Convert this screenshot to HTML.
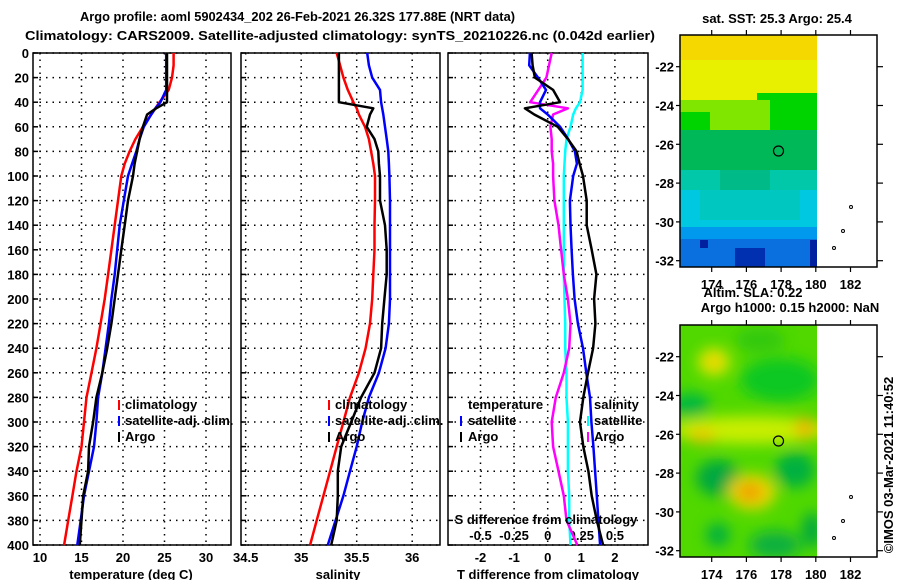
<!DOCTYPE html>
<html><head><meta charset="utf-8"><style>
body{margin:0;background:#fff}
svg{display:block}
text{font-family:"Liberation Sans",sans-serif;font-weight:bold;font-size:13px;fill:#000}
</style></head><body>
<svg id="fig" width="900" height="580" viewBox="0 0 900 580" xmlns="http://www.w3.org/2000/svg">
<defs>
<filter id="blur" x="-20%" y="-20%" width="140%" height="140%"><feGaussianBlur stdDeviation="7"/></filter>
<clipPath id="c1"><rect x="680" y="35" width="137" height="232"/></clipPath>
<clipPath id="c2"><rect x="680" y="325" width="137" height="232"/></clipPath>
</defs>
<text x="80" y="21" textLength="435" lengthAdjust="spacingAndGlyphs" font-size="14">Argo profile: aoml 5902434_202 26-Feb-2021 26.32S 177.88E (NRT data)</text>
<text x="25" y="40" textLength="630" lengthAdjust="spacingAndGlyphs" font-size="14">Climatology: CARS2009. Satellite-adjusted climatology: synTS_20210226.nc (0.042d earlier)</text>

<g id="grids"></g>
<g id="series"></g>

<!-- top map -->
<g clip-path="url(#c1)">
<rect x="680" y="35" width="137" height="232" fill="#0080ee"/>
<rect x="680" y="35" width="137" height="70" fill="#e8f000"/>
<rect x="680" y="35" width="137" height="25" fill="#f4d800"/>
<rect x="757" y="93" width="60" height="40" fill="#00d400"/>
<rect x="680" y="100" width="90" height="30" fill="#80e600"/>
<rect x="680" y="112" width="30" height="20" fill="#00d400"/>
<rect x="680" y="130" width="137" height="42" fill="#00b858"/>
<rect x="680" y="170" width="137" height="20" fill="#00c8a8"/>
<rect x="720" y="170" width="50" height="40" fill="#00bb88"/>
<rect x="680" y="190" width="137" height="37" fill="#00c8e0"/>
<rect x="700" y="190" width="100" height="30" fill="#00c8c0"/>
<rect x="680" y="227" width="137" height="40" fill="#0a70e0"/>
<rect x="680" y="227" width="137" height="12" fill="#0099ee"/>
<rect x="735" y="248" width="30" height="19" fill="#0030b0"/>
<rect x="700" y="240" width="8" height="8" fill="#0020a0"/>
<rect x="810" y="240" width="7" height="27" fill="#0020a0"/>
</g>
<rect x="680" y="35" width="197" height="232" fill="none" stroke="#000" stroke-width="1.5"/>
<circle cx="778.5" cy="151" r="5" fill="none" stroke="#000" stroke-width="1.2"/>
<text x="777" y="23" text-anchor="middle" font-size="12">sat. SST: 25.3 Argo: 25.4</text>

<!-- bottom map -->
<g clip-path="url(#c2)">
<rect x="680" y="325" width="137" height="232" fill="#50d800"/>
<g filter="url(#blur)">
<ellipse cx="714" cy="362" rx="16" ry="14" fill="#e0e800"/>
<ellipse cx="714" cy="362" rx="7" ry="5" fill="#f0c000"/>
<ellipse cx="690" cy="405" rx="20" ry="12" fill="#00b840"/>
<ellipse cx="780" cy="380" rx="40" ry="22" fill="#10c820"/>
<ellipse cx="750" cy="430" rx="80" ry="14" fill="#c8ee00"/>
<ellipse cx="702" cy="436" rx="14" ry="7" fill="#f0c400"/>
<ellipse cx="805" cy="428" rx="10" ry="11" fill="#f0b800"/>
<ellipse cx="718" cy="478" rx="22" ry="18" fill="#00a840"/>
<ellipse cx="795" cy="470" rx="20" ry="18" fill="#00b040"/>
<ellipse cx="752" cy="492" rx="24" ry="18" fill="#e8d800"/>
<ellipse cx="750" cy="492" rx="13" ry="9" fill="#f09c00"/>
<ellipse cx="718" cy="535" rx="12" ry="12" fill="#00b040"/>
<ellipse cx="775" cy="545" rx="26" ry="14" fill="#10b040"/>
<ellipse cx="812" cy="530" rx="10" ry="18" fill="#00a840"/>
<ellipse cx="760" cy="340" rx="25" ry="12" fill="#30c810"/>
</g>
</g>
<rect x="680" y="325" width="197" height="232" fill="none" stroke="#000" stroke-width="1.5"/>
<circle cx="778.5" cy="441" r="5" fill="none" stroke="#000" stroke-width="1.2"/>
<text x="753" y="297" text-anchor="middle" font-size="12">Altim. SLA: 0.22</text>
<text x="790" y="312" text-anchor="middle" font-size="12">Argo h1000: 0.15 h2000: NaN</text>
<text transform="translate(893,465) rotate(-90)" text-anchor="middle" font-size="12" font-weight="normal">©IMOS 03-Mar-2021 11:40:52</text>
<g id="maps"></g>

<!-- legends -->
<g>
<line x1="119" y1="400" x2="119" y2="410" stroke="red" stroke-width="2"/><text x="125" y="409">climatology</text>
<line x1="119" y1="416" x2="119" y2="426" stroke="blue" stroke-width="2"/><text x="125" y="425">satellite-adj. clim.</text>
<line x1="119" y1="432" x2="119" y2="442" stroke="black" stroke-width="2"/><text x="125" y="441">Argo</text>
</g>
<g>
<line x1="329" y1="400" x2="329" y2="410" stroke="red" stroke-width="2"/><text x="335" y="409">climatology</text>
<line x1="329" y1="416" x2="329" y2="426" stroke="blue" stroke-width="2"/><text x="335" y="425">satellite-adj. clim.</text>
<line x1="329" y1="432" x2="329" y2="442" stroke="black" stroke-width="2"/><text x="335" y="441">Argo</text>
</g>
<g>
<text x="468" y="409">temperature</text>
<line x1="461" y1="416" x2="461" y2="426" stroke="blue" stroke-width="2"/><text x="468" y="425">satellite</text>
<line x1="461" y1="432" x2="461" y2="442" stroke="black" stroke-width="2"/><text x="468" y="441">Argo</text>
<text x="594" y="409">salinity</text>
<line x1="588" y1="416" x2="588" y2="426" stroke="cyan" stroke-width="2"/><text x="594" y="425">satellite</text>
<line x1="588" y1="432" x2="588" y2="442" stroke="magenta" stroke-width="2"/><text x="594" y="441">Argo</text>
</g>
<text x="546" y="524" text-anchor="middle">S difference from climatology</text>
<text x="131" y="579" text-anchor="middle">temperature (deg C)</text>
<text x="338" y="579" text-anchor="middle">salinity</text>
<text x="548" y="579" text-anchor="middle">T difference from climatology</text>

<script>
const depths = [0,10,20,30,40,45,50,60,70,80,90,100,120,140,160,180,200,220,240,260,280,300,320,340,360,380,400];
const tempClim = [26.1,26.1,25.9,25.5,24.4,23.9,23.4,22.4,21.5,20.8,20.2,19.8,19.4,19.0,18.6,18.2,17.8,17.3,16.8,16.2,15.6,15.3,15.0,14.4,13.9,13.4,12.9];
const tempSat = [25.2,25.2,25.2,25.2,24.5,23.9,23.4,22.5,22.0,21.6,21.1,20.6,20.1,19.6,19.3,19.0,18.6,18.3,17.9,17.5,17.0,16.8,16.5,15.9,15.3,14.9,14.5];
const tempArgo = [25.3,25.3,25.3,25.3,25.3,24.0,22.9,22.4,22.0,21.7,21.4,21.2,20.6,20.2,19.8,19.4,19.0,18.6,18.1,17.5,16.8,16.4,15.9,15.8,15.2,15.0,14.8];
const salClim = [35.32,35.35,35.38,35.42,35.47,35.5,35.52,35.575,35.61,35.63,35.65,35.665,35.665,35.66,35.66,35.65,35.64,35.62,35.58,35.52,35.44,35.38,35.32,35.26,35.2,35.14,35.08];
const salSat = [35.595,35.61,35.64,35.71,35.72,35.73,35.74,35.755,35.77,35.785,35.79,35.795,35.8,35.8,35.8,35.8,35.8,35.79,35.76,35.7,35.61,35.55,35.5,35.44,35.38,35.31,35.24];
const salArgo = [35.34,35.34,35.34,35.34,35.34,35.65,35.62,35.59,35.66,35.695,35.70,35.71,35.71,35.755,35.77,35.77,35.75,35.73,35.72,35.66,35.54,35.45,35.36,35.33,35.33,35.32,35.27];
const dTSat = [-0.53,-0.55,-0.29,-0.05,-0.23,-0.23,0.0,0.37,0.61,0.81,0.87,0.76,0.66,0.68,0.71,0.75,0.8,0.9,1.05,1.15,1.26,1.3,1.36,1.41,1.46,1.51,1.56];
const dTArgo = [-0.48,-0.45,-0.38,0.16,0.37,-0.68,-0.4,0.3,0.6,0.86,0.95,1.05,1.16,1.16,1.31,1.45,1.38,1.42,1.35,1.2,1.06,0.96,1.06,1.21,1.31,1.46,1.65];
const dSArgo = [0.03,0.01,-0.01,-0.07,-0.13,0.15,0.04,0.02,0.03,0.03,0.04,0.04,0.05,0.08,0.10,0.12,0.15,0.17,0.16,0.12,0.06,0.03,0.04,0.08,0.12,0.14,0.22];
const dSSat = [0.26,0.26,0.26,0.26,0.24,0.21,0.19,0.17,0.14,0.13,0.125,0.12,0.12,0.12,0.12,0.12,0.125,0.13,0.13,0.14,0.14,0.15,0.15,0.15,0.16,0.16,0.17];
const depthTicks = [0,20,40,60,80,100,120,140,160,180,200,220,240,260,280,300,320,340,360,380,400];
const tempTicks = [10,15,20,25,30];
const salTicks = [34.5,35,35.5,36];
const dTTicks = [-2,-1,0,1,2];
const dSTicks = [-0.5,-0.25,0,0.25,0.5];
const lonTicks = [174,176,178,180,182];
const latTicks = [-22,-24,-26,-28,-30,-32];

const NS = "http://www.w3.org/2000/svg";
const yD = d => 53 + d * 1.23;
const xT = t => 40 + (t - 10) * 8.3;
const xS = s => 245.7 + (s - 34.5) * 111;
const xDT = t => 547.7 + t * 33.6;
const xDS = s => 547.7 + s * 134.4;
const xLon = l => 711.7 + (l - 174) * 17.35;
const yLat = (l, top) => top + 31.7 + (-22 - l) * 19.4;

function mk(tag, attrs, parent) {
  const e = document.createElementNS(NS, tag);
  for (const k in attrs) e.setAttribute(k, attrs[k]);
  parent.appendChild(e);
  return e;
}
const grids = document.getElementById('grids');
const ser = document.getElementById('series');
const maps = document.getElementById('maps');
const panels = [
  {x:33, w:198, name:'temperature-panel', ticks:tempTicks, f:xT, lab:t=>String(t)},
  {x:241, w:199, name:'salinity-panel', ticks:salTicks, f:xS, lab:t=>String(t)},
  {x:448, w:200, name:'difference-panel', ticks:dTTicks, f:xDT, lab:t=>String(t)}
];
panels.forEach(p => {
  const g = mk('g', {}, grids);
  
  
  depthTicks.forEach(d => {
    const l = mk('line', {x1:p.x, x2:p.x+p.w, y1:yD(d), y2:yD(d), stroke:'#000', 'stroke-width':1.5, 'stroke-dasharray':'1.5 5'}, g);
    
    
    mk('line', {x1:p.x, x2:p.x+5, y1:yD(d), y2:yD(d), stroke:'#000', 'stroke-width':1.5}, g);
  });
  p.ticks.forEach(t => {
    const x = p.f(t);
    const l = mk('line', {x1:x, x2:x, y1:53, y2:545, stroke:'#000', 'stroke-width':1.5, 'stroke-dasharray':'1.5 5'}, g);
    
    
    const tx = mk('text', {x:x, y:562, 'text-anchor':'middle'}, g);
    tx.textContent = p.lab(t);
    
    
  });
  const fr = mk('rect', {x:p.x, y:53, width:p.w, height:492, fill:'none', stroke:'#000', 'stroke-width':1.5}, g);
  
  
});
depthTicks.forEach(d => {
  const t = mk('text', {x:29, y:yD(d)+5, 'text-anchor':'end'}, grids);
  t.textContent = d;
  
  
});
dSTicks.forEach(s => {
  const t = mk('text', {x:xDS(s), y:540, 'text-anchor':'middle'}, grids);
  t.textContent = s;
  
  
});
function line(vals, fx, color, name, w) {
  const pts = depths.map((d, i) => fx(vals[i]).toFixed(1) + ',' + yD(d).toFixed(1)).join(' ');
  const e = mk('polyline', {points:pts, fill:'none', stroke:color, 'stroke-width':w, 'stroke-linejoin':'round'}, ser);
  
  
}
line(tempClim, xT, 'red', 'temp-climatology-line', 2.5);
line(tempSat, xT, 'blue', 'temp-satellite-line', 2.5);
line(tempArgo, xT, 'black', 'temp-argo-line', 2.5);
line(salClim, xS, 'red', 'sal-climatology-line', 2.5);
line(salSat, xS, 'blue', 'sal-satellite-line', 2.5);
line(salArgo, xS, 'black', 'sal-argo-line', 2.5);
line(dSSat, xDS, 'cyan', 'sdiff-satellite-line', 2.5);
line(dSArgo, xDS, 'magenta', 'sdiff-argo-line', 2.5);
line(dTSat, xDT, 'blue', 'tdiff-satellite-line', 2.5);
line(dTArgo, xDT, 'black', 'tdiff-argo-line', 2.5);

[35, 325].forEach(top => {
  lonTicks.forEach(l => {
    const x = xLon(l);
    mk('line', {x1:x, x2:x, y1:top, y2:top-5, stroke:'#000', 'stroke-width':1.2}, maps);
    mk('line', {x1:x, x2:x, y1:top+232, y2:top+237, stroke:'#000', 'stroke-width':1.2}, maps);
    const t = mk('text', {x:x, y:top+254, 'text-anchor':'middle'}, maps);
    t.textContent = l;
    
    
  });
  latTicks.forEach(l => {
    const y = yLat(l, top);
    mk('line', {x1:877, x2:883, y1:y, y2:y, stroke:'#000', 'stroke-width':1.2}, maps);
    mk('line', {x1:680, x2:676, y1:y, y2:y, stroke:'#000', 'stroke-width':1.2}, maps);
    const t = mk('text', {x:674, y:y+5, 'text-anchor':'end'}, maps);
    t.textContent = l;
    
    
  });
  [[851,top+172],[843,top+196],[834,top+213]].forEach(p => {
    const c = mk('circle', {cx:p[0], cy:p[1], r:1.5, fill:'none', stroke:'#000', 'stroke-width':1}, maps);
    
    
  });
});
</script>
</svg>
</body></html>
